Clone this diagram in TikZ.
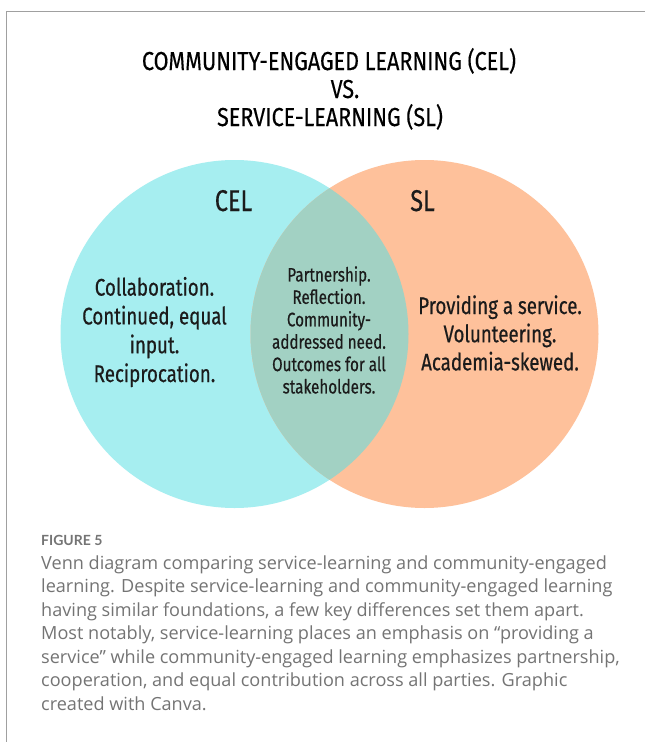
\documentclass[tikz,border=0pt]{standalone}
\usepackage{fontspec}
\setmainfont{Lato}
\newfontfamily\vennfont[FakeStretch=0.78,FakeBold=0.5]{Fira Sans}
\newfontfamily\titlefont[FakeStretch=0.83,FakeBold=0.3]{Fira Sans}
\newfontfamily\capfont{Open Sans}
\newfontfamily\figfont{Lato}
\definecolor{celcyan}{HTML}{A6EEF0}
\definecolor{slorange}{HTML}{FEC19B}
\definecolor{lensgreen}{HTML}{A2D1C3}
\definecolor{framegray}{HTML}{A0A0A0}
\definecolor{capgray}{HTML}{747474}
\definecolor{inktext}{HTML}{1B1B1B}
\tikzset{
  vcircle/.style={circle, minimum size=348pt, inner sep=0pt, draw=none},
  vtext/.style={align=center, inner sep=0pt, text=inktext},
  titleline/.style={anchor=base, inner sep=0pt, text=black,
    font=\titlefont\fontsize{26}{30}\selectfont},
  setlabel/.style={anchor=base, inner sep=0pt, text=inktext,
    font=\vennfont\fontsize{30}{34}\selectfont},
  capline/.style={anchor=base west, inner sep=0pt, text=capgray,
    font=\capfont\fontsize{18.1}{23.5}\selectfont}
}
\begin{document}
\begin{tikzpicture}[x=1pt,y=-1pt]
\useasboundingbox (0,0) rectangle (645,742);
\fill[white] (0,0) rectangle (645,742);
% frame
\coordinate (frameTR) at (645,11.5);
\coordinate (frameTL) at (6.5,11.5);
\coordinate (frameBL) at (6.5,742);
\draw[framegray, line width=1pt] (frameTR) -- (frameTL) -- (frameBL);
% title
\node[titleline] (t1) at (329,70) {COMMUNITY-ENGAGED LEARNING (CEL)};
\node[titleline] (t2) at (345,98) {VS.};
\node[titleline] (t3) at (330,126) {SERVICE-LEARNING (SL)};
% venn circles
\node[vcircle, fill=celcyan] (cel) at (234.5,334) {};
\node[vcircle, fill=slorange] (sl) at (424.5,334) {};
\begin{scope}
  \clip (cel.center) circle[radius=174pt];
  \fill[lensgreen] (sl.center) circle[radius=174pt];
\end{scope}
% set labels
\node[setlabel] (cellab) at (233.5,211) {CEL};
\node[setlabel] (sllab) at (422.5,211) {SL};
% texts
\node[vtext, font=\vennfont\fontsize{24}{28.8}\selectfont] (celtxt) at (154.5,332)
  {Collaboration.\\Continued, equal\\input.\\Reciprocation.};
\node[vtext, font=\vennfont\fontsize{19.5}{22.4}\selectfont] (bothtxt) at (329,330)
  {Partnership.\\Reflection.\\Community-\\addressed need.\\Outcomes for all\\stakeholders.};
\node[vtext, font=\vennfont\fontsize{24}{28.2}\selectfont] (sltxt) at (500,333)
  {Providing a service.\\Volunteering.\\Academia-skewed.};
% caption
\node[anchor=base west, inner sep=0pt, text=capgray,
  font=\figfont\bfseries\fontsize{14}{17}\selectfont] (fig) at (41,545) {FIGURE 5};
\node[capline] (c1) at (41,569) {Venn diagram comparing service-learning and community-engaged};
\node[capline] (c2) at (41,592.5) {learning. Despite service-learning and community-engaged learning};
\node[capline] (c3) at (41,616) {having similar foundations, a few key differences set them apart.};
\node[capline] (c4) at (41,639.5) {Most notably, service-learning places an emphasis on “providing a};
\node[capline] (c5) at (41,663) {service” while community-engaged learning emphasizes partnership,};
\node[capline] (c6) at (41,686.5) {cooperation, and equal contribution across all parties. Graphic};
\node[capline] (c7) at (41,710) {created with Canva.};
\end{tikzpicture}
\end{document}
